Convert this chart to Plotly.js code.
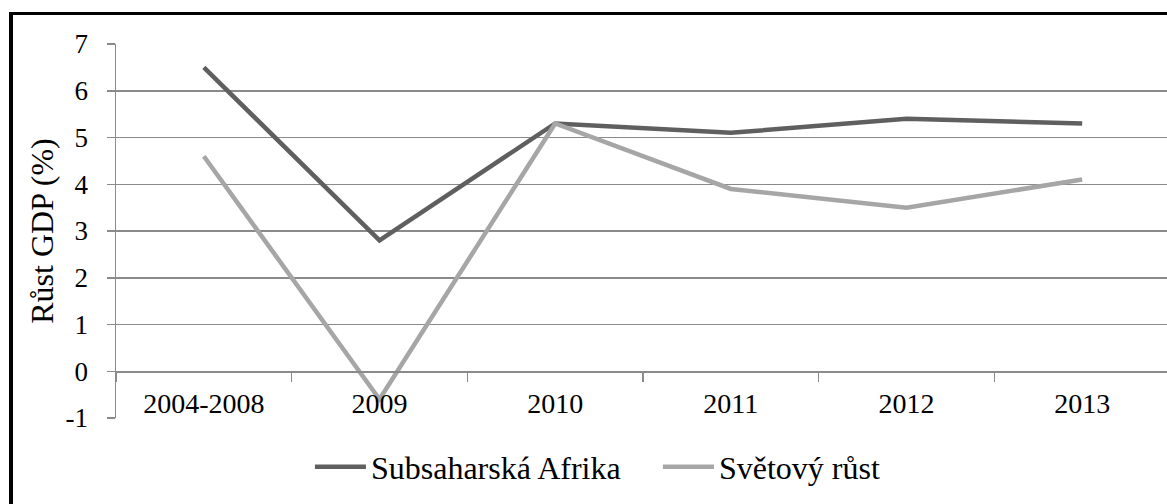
<!DOCTYPE html>
<html>
<head>
<meta charset="utf-8">
<script src="https://cdn.plot.ly/plotly-3.0.1.min.js"></script>
<style>
  html, body { margin: 0; padding: 0; overflow: hidden; background: #fff; }
  #chart { position: absolute; left: 0; top: 0; width: 1175px; height: 504px; }
  #frame { position: absolute; left: 9px; top: 12px; width: 1300px; height: 600px;
           border-left: 4px solid #000; border-top: 3px solid #000; pointer-events: none; }
</style>
</head>
<body>
<div id="chart"></div>
<div id="frame"></div>
<script>
const categories = ["2004-2008", "2009", "2010", "2011", "2012", "2013"];
const seriesNames = ["Subsaharská Afrika", "Světový růst"];
const subsaharskaAfrika = [6.5, 2.8, 5.3, 5.1, 5.4, 5.3];
const svetovyRust = [4.6, -0.6, 5.3, 3.9, 3.5, 4.1];
const yTickValues = [-1, 0, 1, 2, 3, 4, 5, 6, 7];
const yAxisTitle = "Růst GDP (%)";

const FONT = "Liberation Serif, Times New Roman, DejaVu Serif, serif";
const GRID = "#8a8a8a";

const traces = [
  { x: categories, y: subsaharskaAfrika, name: seriesNames[0], type: "scatter", mode: "lines",
    line: { color: "#5f5f5f", width: 4.5 } },
  { x: categories, y: svetovyRust, name: seriesNames[1], type: "scatter", mode: "lines",
    line: { color: "#a6a6a6", width: 4.5 } }
];

const layout = {
  width: 1175, height: 504,
  margin: { l: 116, r: 5, t: 44, b: 86 },
  paper_bgcolor: "#fff", plot_bgcolor: "#fff",
  font: { family: FONT, color: "#000", size: 27 },
  showlegend: true,
  legend: {
    orientation: "h", x: 0.184, xanchor: "left", y: -0.131, yanchor: "middle",
    font: { family: FONT, size: 32, color: "#000" },
    itemwidth: 51, entrywidth: 282, bgcolor: "rgba(0,0,0,0)"
  },
  xaxis: {
    type: "category", range: [-0.5, 5.5],
    anchor: "free", position: 0.125,
    showline: true, linecolor: GRID, linewidth: 1.5,
    showgrid: false, zeroline: false,
    ticks: "outside", tickson: "boundaries", ticklen: 9, tickwidth: 1.5, tickcolor: GRID,
    ticklabelstandoff: 7,
    tickfont: { family: FONT, size: 28, color: "#000" }
  },
  yaxis: {
    range: [-1, 7], tickvals: yTickValues, ticktext: yTickValues.map(String),
    showline: true, linecolor: GRID, linewidth: 1.5,
    showgrid: true, gridcolor: GRID, gridwidth: 1.5, zeroline: false,
    ticks: "outside", ticklen: 8, tickwidth: 1.5, tickcolor: GRID,
    ticklabelstandoff: 13,
    tickfont: { family: FONT, size: 27, color: "#000" },
    title: { text: yAxisTitle, font: { family: FONT, size: 32, color: "#000" }, standoff: 2 }
  }
};

Plotly.newPlot("chart", traces, layout, { displayModeBar: false, staticPlot: true });
</script>
</body>
</html>
